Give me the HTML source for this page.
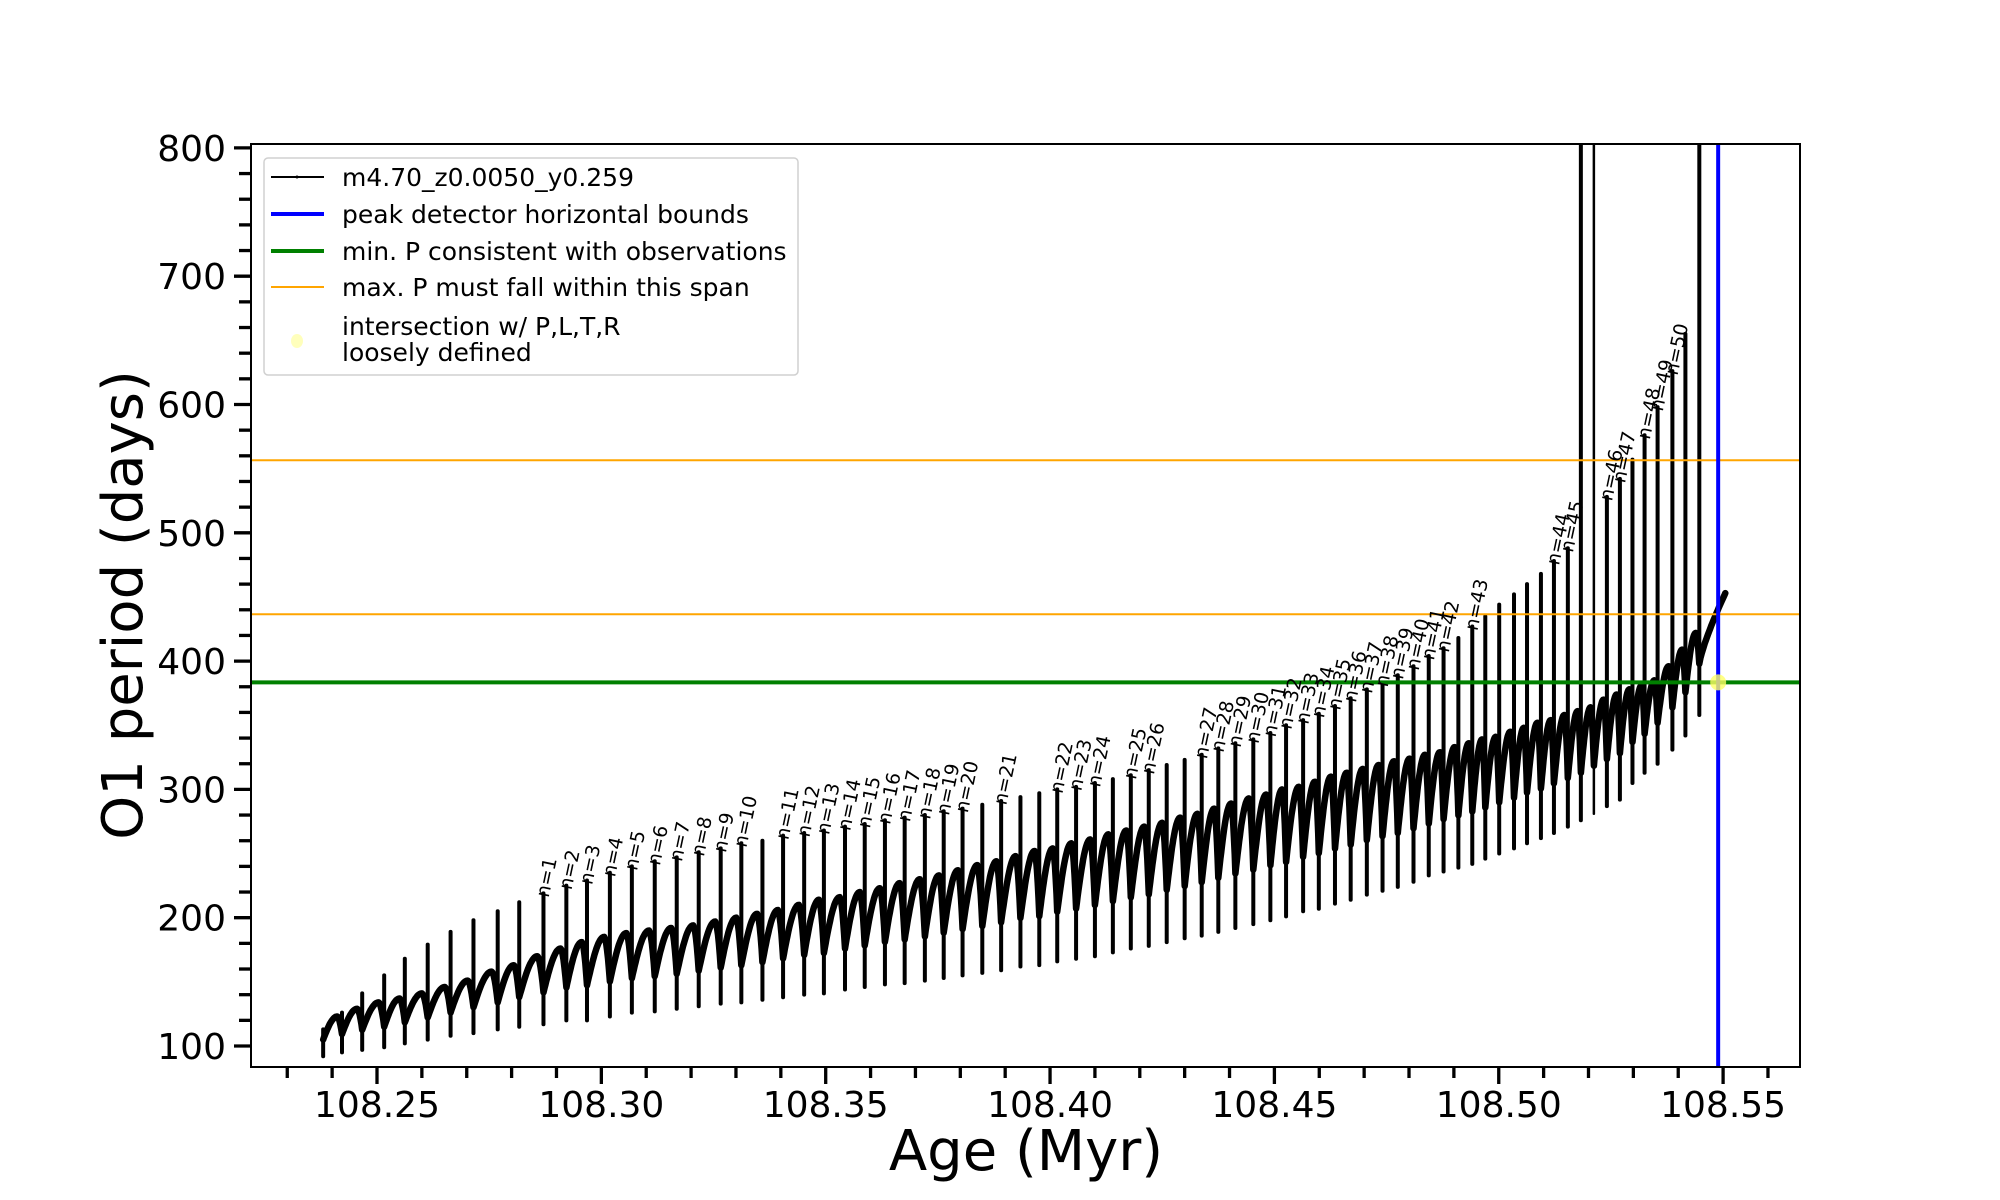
<!DOCTYPE html>
<html><head><meta charset="utf-8"><style>
html,body{margin:0;padding:0;background:#fff;}
svg{display:block;font-family:"DejaVu Sans","Liberation Sans",sans-serif;}
</style></head><body>
<svg id="chart" width="2000" height="1200" viewBox="0 0 2000 1200">
<defs><clipPath id="plotclip"><rect x="251" y="144" width="1549" height="923"/></clipPath></defs>
<rect x="0" y="0" width="2000" height="1200" fill="#fff"/>
<g id="plot" clip-path="url(#plotclip)"></g>
<g id="labels"></g>
<rect x="251" y="144" width="1549" height="923" fill="none" stroke="#000" stroke-width="2"/>
<g id="axes"></g>
<text x="1026" y="1170" font-size="56" text-anchor="middle">Age (Myr)</text>
<text transform="translate(142,605) rotate(-90)" font-size="56" text-anchor="middle">O1 period (days)</text>
<g>
<rect x="264" y="158" width="534" height="217" rx="4" fill="#fff" fill-opacity="0.8" stroke="#d0d0d0" stroke-width="1.5"/>
<line x1="271" y1="177" x2="324" y2="177" stroke="#000" stroke-width="2"/>
<circle cx="297" cy="177" r="1.5" fill="#000"/>
<text x="342" y="186" font-size="25">m4.70_z0.0050_y0.259</text>
<line x1="271" y1="214" x2="324" y2="214" stroke="#0000ff" stroke-width="4"/>
<text x="342" y="223" font-size="25">peak detector horizontal bounds</text>
<line x1="271" y1="251" x2="324" y2="251" stroke="#008000" stroke-width="4"/>
<text x="342" y="260" font-size="25">min. P consistent with observations</text>
<line x1="271" y1="287" x2="324" y2="287" stroke="#ffa500" stroke-width="2"/>
<text x="342" y="296" font-size="25">max. P must fall within this span</text>
<ellipse cx="297" cy="341" rx="6" ry="7" fill="#ffffa0" fill-opacity="0.7"/>
<text x="342" y="335" font-size="25">intersection w/ P,L,T,R</text>
<text x="342" y="361" font-size="25">loosely defined</text>
</g>
</svg>
<script>
const spikeAges=[108.2380,108.2422,108.2467,108.2516,108.2562,108.2613,108.2664,108.2715,108.2769,108.2817,108.2871,108.2922,108.2968,108.3019,108.3068,108.3119,108.3168,108.3217,108.3266,108.3312,108.3359,108.3405,108.3452,108.3496,108.3543,108.3587,108.3632,108.3676,108.3721,108.3763,108.3805,108.3849,108.3891,108.3934,108.3976,108.4016,108.4058,108.4100,108.4140,108.4180,108.4220,108.4260,108.4300,108.4338,108.4375,108.4413,108.4453,108.4491,108.4526,108.4564,108.4599,108.4635,108.4670,108.4706,108.4741,108.4775,108.4810,108.4844,108.4877,108.4910,108.4941,108.4970,108.5001,108.5034,108.5063,108.5094,108.5123,108.5154,108.5183,108.5212,108.5241,108.5270,108.5298,108.5325,108.5354,108.5387,108.5416,108.5447];
const spikeTops=[113,126,141,155,168,179,189,198,205,212,219,225,229,235,240,244,247,251,254,258,260,264,266,268,271,273,276,278,280,283,285,288,291,294,297,300,302,305,308,311,315,319,323,327,332,336,339,344,350,354,359,365,371,378,383,389,396,404,410,418,427,435,444,452,460,468,478,488,900,900,528,542,557,576,598,626,655,900];
const spikeBottoms=[92,95,97,99,102,105,108,110,113,115,117,120,120,123,126,127,129,131,133,134,136,138,140,141,144,146,148,149,151,153,155,157,159,162,163,166,168,170,173,176,178,181,184,186,189,192,195,198,201,205,207,211,214,218,221,224,228,233,236,239,242,246,250,254,258,262,266,271,276,281,287,292,305,313,320,331,342,358];
const plateaus=[123,129,134,137,141,146,151,158,163,170,176,181,185,188,190,192,194,197,200,203,206,210,214,216,220,223,227,230,233,237,241,244,248,252,254,258,261,265,268,271,274,278,281,285,289,293,296,300,302,306,310,313,316,319,322,324,327,329,333,336,339,341,345,348,352,354,358,361,364,370,374,378,381,385,396,409,422,453];
const endAge=108.5505;
const labelIndex=[10,11,12,13,14,15,16,17,18,19,21,22,23,24,25,26,27,28,29,30,32,35,36,37,39,40,43,44,45,46,47,48,49,50,51,52,53,54,55,56,57,58,60,66,67,70,71,73,74,75];
const labelN=[1,2,3,4,5,6,7,8,9,10,11,12,13,14,15,16,17,18,19,20,21,22,23,24,25,26,27,28,29,30,31,32,33,34,35,36,37,38,39,40,41,42,43,44,45,46,47,48,49,50];
const hLinesOrange=[556.5,436.5];
const hLineGreen=[383.4];
const vLineBlue=[108.5489];
const intersection=[108.5489,383.4];
const xTicks=[108.25,108.30,108.35,108.40,108.45,108.50,108.55];
const xTickLabels=["108.25","108.30","108.35","108.40","108.45","108.50","108.55"];
const yTicks=[100,200,300,400,500,600,700,800];
const yTickLabels=["100","200","300","400","500","600","700","800"];

const NS="http://www.w3.org/2000/svg";
const L=251,R=1800,T=144,B=1067;
function X(a){return 377+(a-108.25)*4487;}
function Y(v){return 1046-(v-100)*1.283;}
function mk(tag,attrs,parent){const e=document.createElementNS(NS,tag);for(const k in attrs)e.setAttribute(k,attrs[k]);parent.appendChild(e);return e;}
const plot=document.getElementById('plot');
const axes=document.getElementById('axes');
const labels=document.getElementById('labels');

let d="";
const n=spikeAges.length;
function startVal(i){return spikeBottoms[i]+0.42*(plateaus[i]-spikeBottoms[i]);}
for(let i=0;i<n;i++){
  const a0=spikeAges[i];
  const a1=(i<n-1)?spikeAges[i+1]:endAge;
  const s=startVal(i), p=plateaus[i];
  const last=(i===n-1);
  const sn=last?p:startVal(i+1);
  const steps=24;
  for(let k=0;k<=steps;k++){
    const t=k/steps;
    let v;
    if(last){v=s+(p-s)*Math.pow(t,0.8);}
    else if(t<=0.75){v=s+(p-s)*Math.sin(Math.PI/2*t/0.75);}
    else {v=p-(p-sn)*Math.pow((t-0.75)/0.25,1.8);}
    const xx=X(a0+(a1-a0)*t), yy=Y(v);
    d+=(k===0&&i===0?"M":"L")+xx.toFixed(1)+","+yy.toFixed(1);
  }
}
const curve=mk('path',{d:d,fill:'none',stroke:'#000','stroke-width':6.5,'stroke-linejoin':'round','stroke-linecap':'round'},plot);



for(let i=0;i<n;i++){
  const tall=spikeTops[i]>=800;
  const sp=mk('line',{x1:X(spikeAges[i]),x2:X(spikeAges[i]),y1:Y(spikeBottoms[i]),y2:Y(spikeTops[i]),stroke:'#000','stroke-width':(tall&&i===69)?2.5:4,'stroke-linecap':'round'},plot);
  
  
}

hLinesOrange.forEach(v=>{
  const l=mk('line',{x1:L,x2:R,y1:Y(v),y2:Y(v),stroke:'#ffa500','stroke-width':2},plot);
  
  
});
hLineGreen.forEach(v=>{
  const l=mk('line',{x1:L,x2:R,y1:Y(v),y2:Y(v),stroke:'#008000','stroke-width':4},plot);
  
  
});
vLineBlue.forEach(a=>{
  const l=mk('line',{x1:X(a),x2:X(a),y1:T,y2:B,stroke:'#0000ff','stroke-width':4},plot);
  
  
});
const dot=mk('circle',{cx:X(intersection[0]),cy:Y(intersection[1]),r:8,fill:'#ffff66','fill-opacity':0.8},plot);



for(let j=0;j<labelIndex.length;j++){
  const i=labelIndex[j];
  const x=X(spikeAges[i])+5, y=Y(spikeTops[i])+5;
  const t=mk('text',{x:0,y:0,'font-size':19,transform:`translate(${x.toFixed(1)},${y.toFixed(1)}) rotate(-78)`},labels);
  t.textContent="n="+labelN[j];
  
  
}

for(let v=100;v<=800;v+=20){
  const major=(v%100===0);
  const tk=mk('line',{x1:major?L-17:L-12,x2:L,y1:Y(v),y2:Y(v),stroke:'#000','stroke-width':3.3},axes);
  
  
}
yTicks.forEach((v,i)=>{
  const t=mk('text',{x:226,y:Y(v)+13,'font-size':36,'text-anchor':'end'},axes);
  t.textContent=yTickLabels[i];
  
  
});
for(let k=23;k<=56;k++){
  const a=108+k/100;
  const major=(k%5===0);
  const tk=mk('line',{x1:X(a),x2:X(a),y1:B,y2:major?B+17:B+11,stroke:'#000','stroke-width':3.3},axes);
  
  
}
xTicks.forEach((a,i)=>{
  const t=mk('text',{x:X(a),y:1117,'font-size':36,'text-anchor':'middle'},axes);
  t.textContent=xTickLabels[i];
  
  
});
</script>
</body></html>
